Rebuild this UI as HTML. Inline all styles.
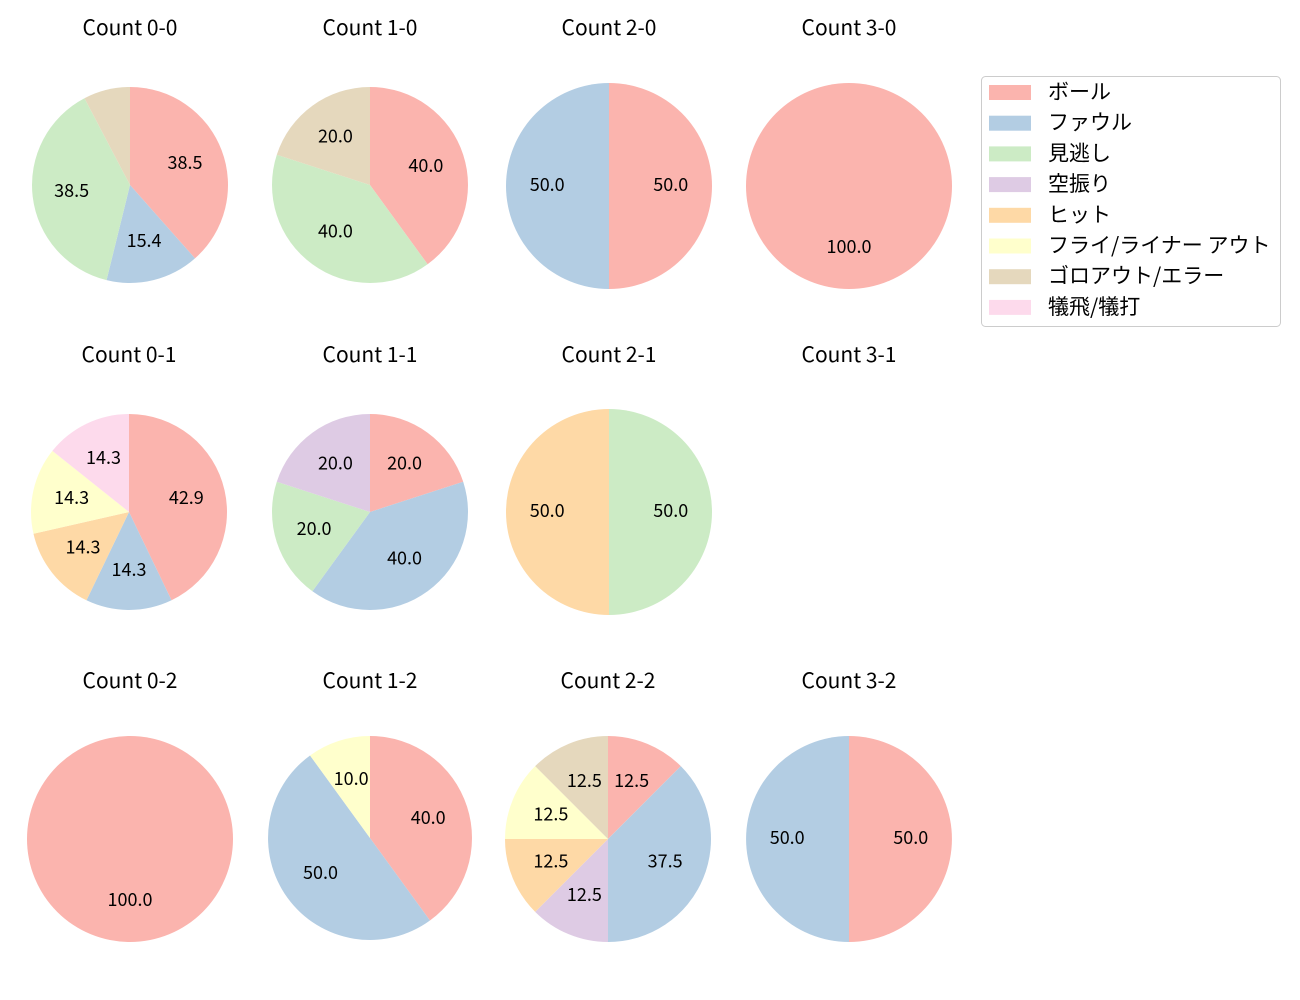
<!DOCTYPE html>
<html><head><meta charset="utf-8"><style>
body{margin:0;background:#fff;width:1300px;height:1000px;overflow:hidden;font-family:"Noto Sans CJK JP","Liberation Sans",sans-serif;}
svg{display:block}
</style></head><body>
<svg id="chart" width="1300" height="1000" xmlns="http://www.w3.org/2000/svg" font-family="'Noto Sans CJK JP','Liberation Sans',sans-serif"></svg>
<script>
const categories=["ボール","ファウル","見逃し","空振り","ヒット","フライ/ライナー アウト","ゴロアウト/エラー","犠飛/犠打"];
const colors=["#fbb4ae","#b3cde3","#ccebc5","#decbe4","#fed9a6","#ffffcc","#e5d8bd","#fddaec"];
const titles=["Count 0-0","Count 1-0","Count 2-0","Count 3-0","Count 0-1","Count 1-1","Count 2-1","Count 3-1","Count 0-2","Count 1-2","Count 2-2","Count 3-2"];
const c00=[5,2,5,0,0,0,1,0];
const c10=[2,0,2,0,0,0,1,0];
const c20=[1,1,0,0,0,0,0,0];
const c30=[1,0,0,0,0,0,0,0];
const c01=[3,1,0,0,1,1,0,1];
const c11=[1,2,1,1,0,0,0,0];
const c21=[0,0,1,0,1,0,0,0];
const c31=[0,0,0,0,0,0,0,0];
const c02=[1,0,0,0,0,0,0,0];
const c12=[4,5,0,0,0,1,0,0];
const c22=[1,3,0,1,1,1,1,0];
const c32=[1,1,0,0,0,0,0,0];
const seriesList=[c00,c10,c20,c30,c01,c11,c21,c31,c02,c12,c22,c32];
const layout=[[130,185,98],[370,185,98],[609,186,103],[849,186,103],[129,512,98],[370,512,98],[609,512,103],[849,512,103],[130,839,103],[370,838,102],[608,839,103],[849,839,103]];
const titleY=[27,27,27,27,354,354,354,354,680,680,680,680];
const svg=document.getElementById('chart');
const NS="http://www.w3.org/2000/svg";
function mk(tag,attrs){const e=document.createElementNS(NS,tag);for(const k in attrs)e.setAttribute(k,attrs[k]);return e;}
seriesList.forEach((vals,i)=>{
  const [cx,cy,r]=layout[i];
  const g=mk('g',{});
  
  
  svg.appendChild(g);
  const t=mk('text',{x:cx,y:titleY[i],'text-anchor':'middle','dominant-baseline':'central','font-size':'21','fill':'#000'});
  
  
  t.textContent=titles[i];g.appendChild(t);
  const total=vals.reduce((a,b)=>a+b,0);
  if(!total)return;
  let ang=90;
  vals.forEach((v,j)=>{
    if(!v)return;
    const span=v/total*360;
    const a1=ang,a2=ang-span;
    let el;
    if(span>=359.999){el=mk('circle',{cx:cx,cy:cy,r:r,fill:colors[j]});}
    else{
      const x1=cx+r*Math.cos(a1*Math.PI/180),y1=cy-r*Math.sin(a1*Math.PI/180);
      const x2=cx+r*Math.cos(a2*Math.PI/180),y2=cy-r*Math.sin(a2*Math.PI/180);
      el=mk('path',{d:`M${cx},${cy}L${x1},${y1}A${r},${r} 0 ${span>180?1:0} 1 ${x2},${y2}Z`,fill:colors[j]});
    }
    
    
    g.appendChild(el);
    const pct=v/total*100;
    if(pct>=10){
      const mid=(a1+a2)/2*Math.PI/180;
      const lb=mk('text',{x:cx+0.6*r*Math.cos(mid),y:cy-0.6*r*Math.sin(mid)-2,'text-anchor':'middle','dominant-baseline':'central','font-size':'18','fill':'#000'});
      
      
      lb.textContent=pct.toFixed(1);
      g.appendChild(lb);
    }
    ang=a2;
  });
});
const lg=mk('g',{});


svg.appendChild(lg);
lg.appendChild(mk('rect',{x:981.5,y:76.5,width:299,height:250,rx:4,fill:'#fff',stroke:'#ccc'}));
categories.forEach((c,j)=>{
  const y=92+j*30.7;
  const p=mk('rect',{x:989,y:y-7,width:42,height:15,fill:colors[j]});
  
  
  lg.appendChild(p);
  const t=mk('text',{x:1048,y:y-1,'dominant-baseline':'central','font-size':'21','fill':'#000'});
  
  
  t.textContent=c;lg.appendChild(t);
});
</script>
</body></html>
